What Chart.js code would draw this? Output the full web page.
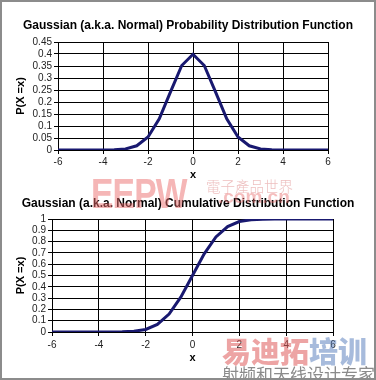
<!DOCTYPE html>
<html>
<head>
<meta charset="utf-8">
<script src="https://cdn.jsdelivr.net/npm/chart.js@4.4.1/dist/chart.umd.min.js"></script>
<style>
  html, body { margin: 0; padding: 0; background: #fff; }
  #page { position: relative; width: 376px; height: 380px; overflow: hidden; background: #fff; }
  .box { position: absolute; left: 0; width: 376px; height: 190px; }
  #frame { position: absolute; left: 0; top: 0; width: 372px; height: 376px; border: 2px solid #8c8c8c; pointer-events: none; }
  .wm { position: absolute; white-space: nowrap; pointer-events: none; line-height: 1; }
</style>
</head>
<body>
<div id="page">
  <div class="box" style="top:0"><canvas id="pdf" width="376" height="190"></canvas></div>
  <div class="box" style="top:190px"><canvas id="cdf" width="376" height="190"></canvas></div>

  <div class="wm" style="left:91px;top:170px;font:900 42px 'Liberation Sans',Arial,sans-serif;letter-spacing:-1px;color:rgba(236,110,110,0.5);transform:scaleX(0.8);transform-origin:0 0">EEPW</div>
  <div class="wm" style="left:206px;top:175px;font:300 14.5px 'Noto Sans CJK TC',sans-serif;color:rgba(215,110,110,0.45)">電子產品世界</div>
  <div class="wm" style="left:218px;top:186px;font:700 19px 'Liberation Sans',Arial,sans-serif;color:rgba(232,110,110,0.45)">.com.cn</div>
  <div class="wm" style="left:222px;top:329px;font:900 29px 'Noto Sans CJK SC',sans-serif;letter-spacing:0px"><span style="color:rgba(222,90,90,0.55)">易迪拓</span><span style="color:rgba(80,120,185,0.5)">培训</span></div>
  <div class="wm" style="left:222px;top:361px;font:400 17px 'Noto Sans CJK SC',sans-serif;color:rgba(110,110,110,0.8)">射频和天线设计专家</div>

  <div id="frame"></div>
</div>
<script>
// Sample points (x step 0.5) of the standard normal distribution
const xValues = [-6, -5.5, -5, -4.5, -4, -3.5, -3, -2.5, -2, -1.5, -1, -0.5, 0,
                 0.5, 1, 1.5, 2, 2.5, 3, 3.5, 4, 4.5, 5, 5.5, 6];
const pdfValues = [0, 0, 0.0000015, 0.000016, 0.000134, 0.000873, 0.004432, 0.017528, 0.053991, 0.129518, 0.241971, 0.352065, 0.398942,
                   0.352065, 0.241971, 0.129518, 0.053991, 0.017528, 0.004432, 0.000873, 0.000134, 0.000016, 0.0000015, 0, 0];
const cdfValues = [0, 0, 0.0000003, 0.0000034, 0.0000317, 0.000233, 0.00135, 0.00621, 0.02275, 0.0668, 0.1587, 0.3085, 0.5,
                   0.6915, 0.8413, 0.9332, 0.97725, 0.99379, 0.99865, 0.99977, 0.99997, 1, 1, 1, 1];

// Tick labels
const xTicks = [-6, -4, -2, 0, 2, 4, 6];
const pdfTicks = [0, 0.05, 0.1, 0.15, 0.2, 0.25, 0.3, 0.35, 0.4, 0.45];
const cdfTicks = [0, 0.1, 0.2, 0.3, 0.4, 0.5, 0.6, 0.7, 0.8, 0.9, 1];

const FONT = "Arial, 'Liberation Sans', sans-serif";
const LINE_COLOR = '#191970';

function makeChart(id, titleText, yValues, yTicks, g) {
  const yMax = yTicks[yTicks.length - 1];
  return new Chart(document.getElementById(id), {
    type: 'line',
    data: {
      datasets: [{
        data: xValues.map((x, i) => ({ x: x, y: yValues[i] })),
        borderColor: LINE_COLOR,
        borderWidth: 3,
        pointRadius: 0,
        tension: 0,
        fill: false,
        yAxisID: 'y'
      }]
    },
    options: {
      responsive: false,
      animation: false,
      devicePixelRatio: 1,
      layout: { padding: 0 },
      plugins: {
        legend: { display: false },
        tooltip: { enabled: false },
        title: {
          display: true,
          text: titleText,
          color: '#000',
          font: { family: FONT, size: 12, weight: 'bold' },
          padding: { top: g.titleTop, bottom: g.titleBottom }
        }
      },
      scales: {
        x: {
          type: 'linear',
          min: -6,
          max: 6,
          afterBuildTicks: s => { s.ticks = xTicks.map(v => ({ value: v })); },
          afterFit: s => { s.height = g.xHeight; },
          ticks: { color: '#222', font: { family: FONT, size: 10 }, padding: g.xTickPad, autoSkip: false, maxRotation: 0 },
          grid: { color: '#000', lineWidth: 1, tickLength: 4, tickColor: '#000' },
          border: { color: '#000', width: 1 },
          title: { display: true, text: 'x', color: '#000', font: { family: FONT, size: 11, weight: 'bold' }, padding: { top: 0, bottom: g.xTitleBottom } }
        },
        y: {
          type: 'linear',
          position: 'left',
          min: 0,
          max: yMax,
          afterBuildTicks: s => { s.ticks = yTicks.map(v => ({ value: v })); },
          afterFit: s => { s.width = g.yWidth; },
          ticks: { color: '#222', font: { family: FONT, size: 10 }, padding: 2, autoSkip: false, callback: v => String(v) },
          grid: { color: '#000', lineWidth: 1, tickLength: 4, tickColor: '#000' },
          border: { color: '#000', width: 1 },
          title: { display: true, text: 'P(X =x)', color: '#000', font: { family: FONT, size: 11, weight: 'bold' }, padding: { top: g.yTitleTop, bottom: 0 } }
        },
        // empty right-hand margin so the plot area sits left of centre while the title stays centred
        margin: {
          type: 'linear',
          position: 'right',
          display: true,
          min: 0,
          max: 1,
          afterBuildTicks: s => { s.ticks = []; },
          afterFit: s => { s.width = g.rightWidth; },
          ticks: { display: false },
          grid: { display: false, drawTicks: false },
          border: { display: false }
        }
      }
    }
  });
}

makeChart('pdf', 'Gaussian (a.k.a. Normal) Probability Distribution Function', pdfValues, pdfTicks,
  { rightWidth: 48, titleTop: 18, titleBottom: 9.6, xHeight: 40, yWidth: 58, xTickPad: 2, xTitleBottom: 8.4, yTitleTop: 14.4 });

makeChart('cdf', 'Gaussian (a.k.a. Normal) Cumulative Distribution Function', cdfValues, cdfTicks,
  { rightWidth: 43, titleTop: 6.8, titleBottom: 7.8, xHeight: 48, yWidth: 52, xTickPad: 3, xTitleBottom: 15.4, yTitleTop: 14.4 });
</script>
</body>
</html>
